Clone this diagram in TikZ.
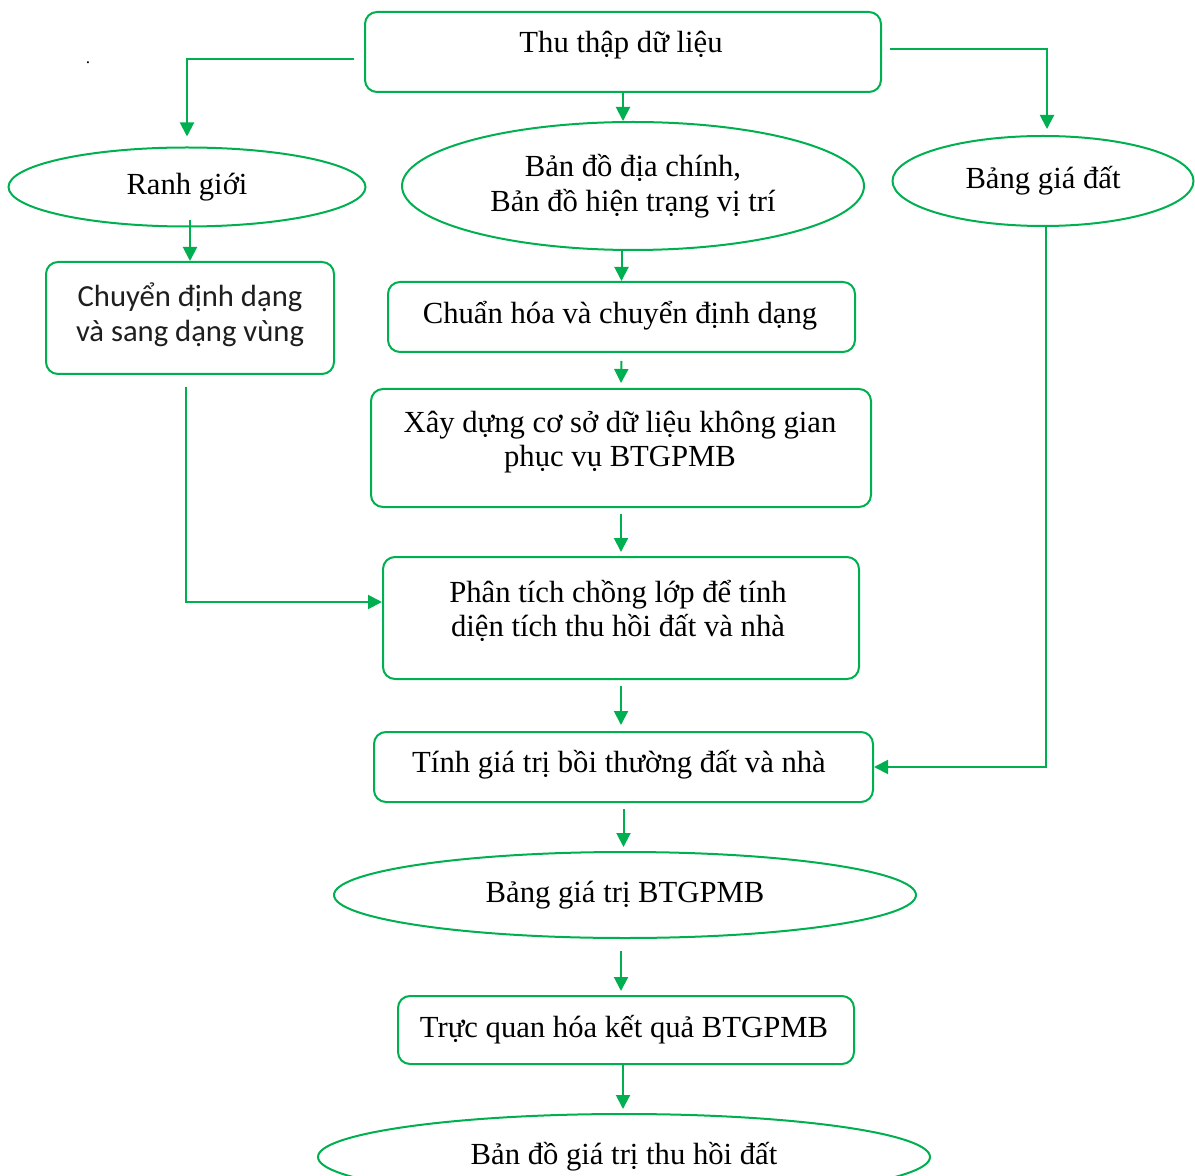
\documentclass[tikz,border=0pt]{standalone}
\usepackage{fontspec}
\setmainfont{Liberation Serif}
\newfontfamily\calib{Carlito}
\usetikzlibrary{arrows.meta,shapes.geometric,calc}
\definecolor{gr}{RGB}{0,176,80}
\definecolor{tx}{RGB}{30,30,30}
\begin{document}
\begin{tikzpicture}[x=0.75pt,y=-0.75pt,
 box/.style={draw=gr,line width=1.5pt,rounded corners=9pt,inner sep=0pt},
 ell/.style={draw=gr,line width=1.5pt,ellipse,inner sep=0pt,align=center,font=\fontsize{23}{26}\selectfont},
 txt/.style={align=center,inner sep=0pt,font=\fontsize{23}{26}\selectfont},
 arr/.style={draw=gr,line width=1.5pt,-{Triangle[length=10.5pt,width=10.5pt]}}]
\clip (0,0) rectangle (1195,1176);
\useasboundingbox (0,0) rectangle (1195,1176);

% boxes
\node[box,minimum width=516*0.75pt,minimum height=80*0.75pt] (thu) at (623,52) {};
\node[txt] (thut) at (621,45) {Thu thập dữ liệu};
\node[box,minimum width=288*0.75pt,minimum height=112*0.75pt] (chuyen) at (190,318) {};
\node[txt,font=\calib\fontsize{23}{26}\selectfont,text=tx] (chuyent) at (190,315) {Chuyển định dạng\\và sang dạng vùng};
\node[box,minimum width=467*0.75pt,minimum height=70*0.75pt] (chuan) at (621.5,317) {};
\node[txt] (chuant) at (620,316) {Chuẩn hóa và chuyển định dạng};
\node[box,minimum width=500*0.75pt,minimum height=118*0.75pt] (xay) at (621,448) {};
\node[txt] (xayt) at (620,442) {Xây dựng cơ sở dữ liệu không gian\\phục vụ BTGPMB};
\node[box,minimum width=476*0.75pt,minimum height=122*0.75pt] (phan) at (621,618) {};
\node[txt] (phant) at (618,611) {Phân tích chồng lớp để tính\\diện tích thu hồi đất và nhà};
\node[box,minimum width=499*0.75pt,minimum height=70*0.75pt] (tinh) at (623.5,767) {};
\node[txt] (tinht) at (619,765) {Tính giá trị bồi thường đất và nhà};
\node[box,minimum width=456*0.75pt,minimum height=68*0.75pt] (truc) at (626,1030) {};
\node[txt] (truct) at (624,1030) {Trực quan hóa kết quả BTGPMB};

% ellipses
\node[ell,minimum width=357*0.75pt,minimum height=79*0.75pt] (ranh) at (187,187) {Ranh giới};
\node[ell,minimum width=462*0.75pt,minimum height=128*0.75pt] (bd) at (633,186) {Bản đồ địa chính,\\Bản đồ hiện trạng vị trí};
\node[ell,minimum width=301*0.75pt,minimum height=90*0.75pt] (bgd) at (1043,181) {Bảng giá đất};
\node[ell,minimum width=582*0.75pt,minimum height=86*0.75pt] (bgt) at (625,895) {Bảng giá trị BTGPMB};
\node[ell,minimum width=612*0.75pt,minimum height=86*0.75pt] (bdgt) at (624,1157) {Bản đồ giá trị thu hồi đất};

\node[inner sep=0pt,font=\fontsize{13}{14}\selectfont] (dot) at (88,63) {.};

% connectors
\draw[arr,shorten >=7.5pt] ($(thu.west)+(-10,7)$) -| (ranh.north);
\draw[arr] (thu.south) -- (thu.south |- bd.north);
\draw[arr,shorten >=4.5pt] ($(thu.east)+(8,-3)$) -| ($(bgd.north)+(4,0)$);
\draw[arr] ($(ranh.south)+(3,-7)$) -- (chuyen.north);
\draw[arr] (chuan.north |- bd.south) -- (chuan.north);
\draw[arr,shorten <=6pt,shorten >=3.75pt] (chuan.south) -- (xay.north);
\draw[arr,shorten <=4.5pt,shorten >=3pt] (xay.south) -- (phan.north);
\draw[arr] ($(chuyen.south)+(-4,12)$) |- ($(phan.west)+(0,-16)$);
\draw[arr,shorten <=4.5pt,shorten >=4.5pt] (phan.south) -- (phan.south |- tinh.north);
\draw[arr] ($(bgd.south)+(3,0)$) |- (tinh.east);
\draw[arr,shorten <=4.5pt,shorten >=3pt] (tinh.south) -- (tinh.south |- bgt.north);
\draw[arr,shorten <=9pt,shorten >=3pt] (bgt.south -| truc.north) ++(-5,0) -- ($(truc.north)+(-5,0)$);
\draw[arr,shorten >=3pt] ($(truc.south)+(-3,0)$) -- ($(truc.south |- bdgt.north)+(-3,0)$);
\end{tikzpicture}
\end{document}
